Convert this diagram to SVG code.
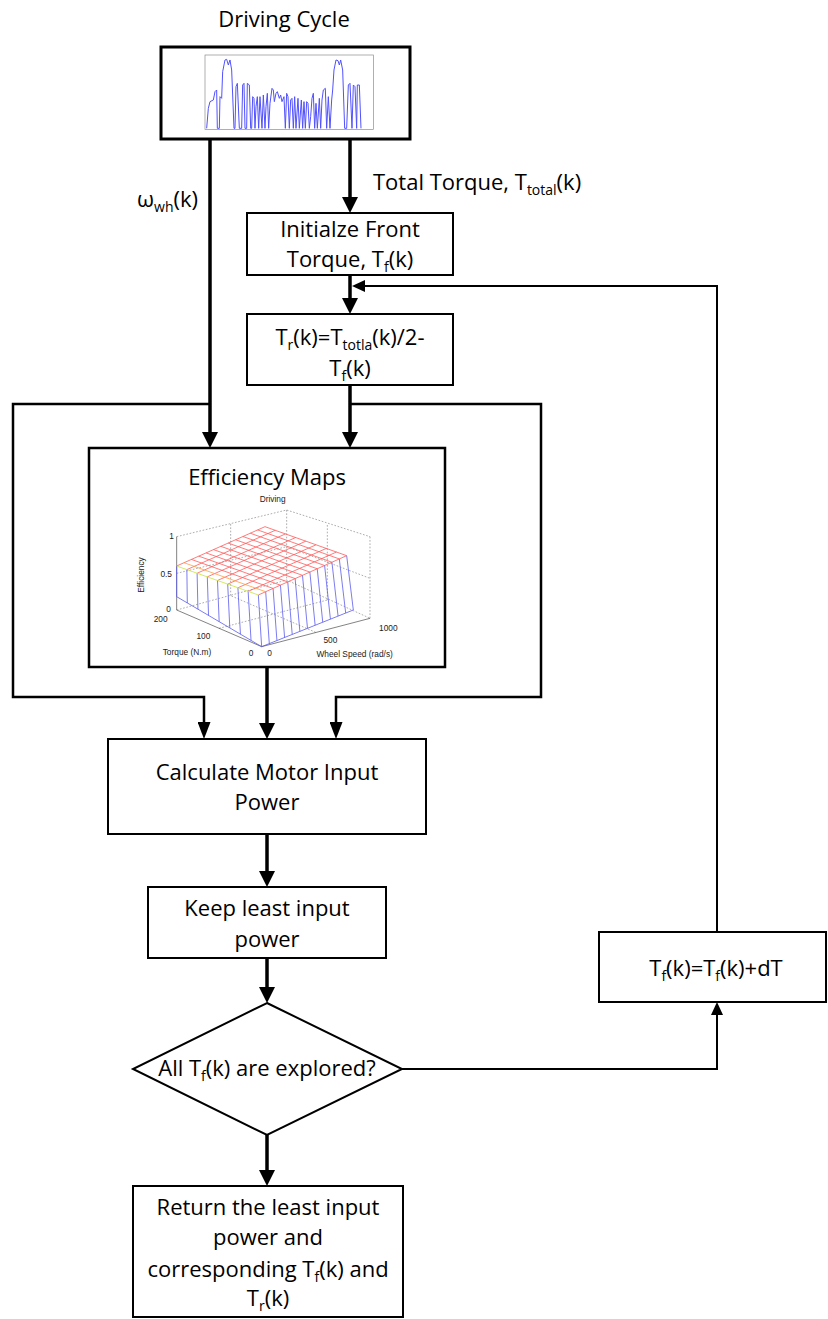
<svg xmlns="http://www.w3.org/2000/svg" width="828" height="1319" viewBox="0 0 828 1319">
<style>
.box{fill:#fff;stroke:#000;stroke-width:2}
.t{font-family:'Open Sans','Liberation Sans',sans-serif;font-size:22px;fill:#000;text-anchor:middle}
.tl{font-family:'Open Sans','Liberation Sans',sans-serif;font-size:22px;fill:#000}
.sub{font-size:14px}
.thick{stroke:#000;stroke-width:3.5;fill:none}
.thin{stroke:#000;stroke-width:2;fill:none}
.mid{stroke:#000;stroke-width:2.5;fill:none}
.ax{stroke:#444;stroke-width:2;fill:none}
.dot{stroke:#777;stroke-width:1.8;fill:none;stroke-dasharray:5 5}
.red{stroke:#ff5a5a;stroke-width:2.4;fill:none}
.blue{stroke:#5a5aee;stroke-width:2.4;fill:none}
.tick{font-family:'Liberation Sans',Arial,sans-serif;font-size:25px;fill:#222}
</style>
<defs>
<marker id="ah" markerUnits="userSpaceOnUse" markerWidth="16" markerHeight="16" refX="8" refY="8" orient="auto"><path d="M0,0 L16,8 L0,16 Z" fill="#000"/></marker>
<marker id="at" markerUnits="userSpaceOnUse" markerWidth="13" markerHeight="12" refX="6" refY="6" orient="auto"><path d="M0,0 L13,6 L0,12 Z" fill="#000"/></marker>
<marker id="am" markerUnits="userSpaceOnUse" markerWidth="17" markerHeight="13" refX="8" refY="6.5" orient="auto"><path d="M0,0 L17,6.5 L0,13 Z" fill="#000"/></marker>
</defs>
<rect width="828" height="1319" fill="#fff"/>

<g id="connectors">
<path class="thick" d="M210,140 V440" marker-end="url(#ah)"/>
<path class="thick" d="M350,140 V205" marker-end="url(#ah)"/>
<path class="thick" d="M350,275 V306" marker-end="url(#ah)"/>
<path class="thick" d="M350,385 V440" marker-end="url(#ah)"/>
<path class="thin" d="M717,932 V286 H359" marker-end="url(#at)"/>
<path class="mid" d="M210,404 H13 V697 H204 V730" marker-end="url(#am)"/>
<path class="mid" d="M350,404 H541 V697 H336 V730" marker-end="url(#am)"/>
<path class="thick" d="M267,667 V731" marker-end="url(#ah)"/>
<path class="thick" d="M267,834 V879" marker-end="url(#ah)"/>
<path class="thick" d="M267,958 V995" marker-end="url(#ah)"/>
<path class="thick" d="M267,1135 V1178" marker-end="url(#ah)"/>
<path class="thin" d="M402,1069 H717 V1009" marker-end="url(#at)"/>
</g>

<g id="labels">
<text class="tl" x="137" y="207">ω<tspan class="sub" dy="5">wh</tspan><tspan dy="-5">(k)</tspan></text>
<text class="tl" x="373" y="190">Total Torque, T<tspan class="sub" dy="5">total</tspan><tspan dy="-5">(k)</tspan></text>
</g>

<g id="driving-cycle">
<text class="t" x="284" y="27">Driving Cycle</text>
<rect x="161" y="47" width="249" height="92" fill="#fff" stroke="#000" stroke-width="3"/>
<g transform="translate(160,40) scale(0.33333)">
<rect x="135" y="45" width="505" height="223" fill="none" stroke="#888" stroke-width="2"/>
<polyline fill="none" stroke="#5050ff" stroke-width="3" points="140,265 145,205 150,185 160,180 165,155 170,150 172,265 178,265 180,170 185,175 188,95 195,60 200,58 205,75 210,60 215,90 222,265 225,265 228,140 232,130 238,265 245,265 248,135 252,130 255,265 260,265 262,130 268,135 272,265 275,265 278,170 282,175 285,265 288,200 292,170 296,265 300,170 306,265 310,165 315,265 318,200 322,160 326,265 330,190 336,145 340,150 343,185 348,160 352,155 358,175 362,165 366,185 372,170 376,265 380,160 384,170 388,265 392,180 396,175 400,265 404,170 408,265 414,175 418,265 424,180 428,265 432,185 436,265 440,185 444,190 448,265 452,230 456,175 460,160 464,265 468,190 472,265 478,175 482,265 486,180 490,150 496,145 500,265 505,170 510,265 515,180 518,150 522,90 528,60 534,62 538,75 542,60 548,90 554,265 560,265 565,135 570,130 576,265 580,135 585,140 590,265 592,135 598,135 603,265"/>
</g>
</g>

<g id="init-front">
<rect class="box" x="247" y="213" width="206" height="62"/>
<text class="t" x="350" y="237">Initialze Front</text>
<text class="t" x="350" y="267">Torque, T<tspan class="sub" dy="5">f</tspan><tspan dy="-5">(k)</tspan></text>
</g>

<g id="rear-torque">
<rect class="box" x="247" y="314" width="206" height="71"/>
<text class="t" x="350" y="345">T<tspan class="sub" dy="5">r</tspan><tspan dy="-5">(k)=T</tspan><tspan class="sub" dy="5">totla</tspan><tspan dy="-5">(k)/2-</tspan></text>
<text class="t" x="350" y="376">T<tspan class="sub" dy="5">f</tspan><tspan dy="-5">(k)</tspan></text>
</g>

<g id="efficiency-maps">
<rect x="89" y="448" width="356" height="219" fill="#fff" stroke="#000" stroke-width="2.5"/>
<text class="t" x="267" y="485">Efficiency Maps</text>
<g transform="translate(80,380) scale(0.33333)">
<text class="tick" x="578" y="367" text-anchor="middle">Driving</text>
<path class="dot" d="M290,470 L620,390 L870,470 M620,390 V600 M870,470 V715 M290,690 L620,600 L870,715 M290,580 L620,500 L870,595 M417,745 L742,660 M707,757 L452,647 M452,647 V430 M742,660 V430"/>
<path class="ax" d="M290,470 V690 L545,800 L870,715"/>
<path class="blue" d="M290,650 L545,800 L820,690 M290,558 L290,650 M320.6,568.9 L321.9,668.8 M351.3,579.8 L353.8,687.5 M381.9,590.6 L385.6,706.3 M412.5,601.5 L417.5,725 M443.1,612.4 L449.4,743.8 M473.8,623.3 L481.3,762.5 M504.4,634.1 L513.1,781.3 M535,645 L545,800 M557.1,635.2 L567.9,790.8 M579.2,625.3 L590.8,781.7 M601.3,615.5 L613.8,772.5 M623.3,605.7 L636.7,763.3 M645.4,595.8 L659.6,754.2 M667.5,586 L682.5,745 M689.6,576.2 L705.4,735.8 M711.7,566.3 L728.3,726.7 M733.8,556.5 L751.3,717.5 M755.8,546.7 L774.2,708.3 M777.9,536.8 L797.1,699.2 M800,527 L820,690"/>
<path class="red" d="M334.2,538.3 L579.2,625.3 M356.3,528.5 L601.3,615.5 M378.3,518.7 L623.3,605.7 M400.4,508.8 L645.4,595.8 M422.5,499 L667.5,586 M444.6,489.2 L689.6,576.2 M466.7,479.3 L711.7,566.3 M488.8,469.5 L733.8,556.5 M510.8,459.7 L755.8,546.7 M532.9,449.8 L777.9,536.8 M555,440 L800,527 M290,558 L555,440 M320.6,568.9 L585.6,450.9 M351.3,579.8 L616.3,461.8 M381.9,590.6 L646.9,472.6 M412.5,601.5 L677.5,483.5 M443.1,612.4 L708.1,494.4 M473.8,623.3 L738.8,505.3 M504.4,634.1 L769.4,516.1 M535,645 L800,527"/>
<path d="M312.1,548.2 L557.1,635.2" stroke="#ffa040" stroke-width="2.4" fill="none"/>
<path d="M290,558 L535,645" stroke="#c8e632" stroke-width="2.4" fill="none"/>
<text class="tick" x="282" y="476" text-anchor="end">1</text>
<text class="tick" x="276" y="590" text-anchor="end">0.5</text>
<text class="tick" x="273" y="697" text-anchor="end">0</text>
<text class="tick" x="242" y="727" text-anchor="middle">200</text>
<text class="tick" x="370" y="778" text-anchor="middle">100</text>
<text class="tick" x="513" y="828" text-anchor="middle">0</text>
<text class="tick" x="569" y="828" text-anchor="middle">0</text>
<text class="tick" x="751" y="790" text-anchor="middle">500</text>
<text class="tick" x="925" y="752" text-anchor="middle">1000</text>
<text class="tick" x="321" y="825" text-anchor="middle">Torque (N.m)</text>
<text class="tick" x="824" y="832" text-anchor="middle">Wheel Speed (rad/s)</text>
<text class="tick" x="0" y="0" text-anchor="middle" transform="translate(192,585) rotate(-90)">Efficiency</text>
</g>
</g>

<g id="calc-power">
<rect class="box" x="108" y="739" width="318" height="95"/>
<text class="t" x="267" y="780">Calculate Motor Input</text>
<text class="t" x="267" y="810">Power</text>
</g>

<g id="keep-least">
<rect class="box" x="148" y="887" width="238" height="71"/>
<text class="t" x="267" y="916">Keep least input</text>
<text class="t" x="267" y="947">power</text>
</g>

<g id="decision">
<polygon class="box" points="267,1003 402,1069 267,1135 133,1069"/>
<text class="t" x="267" y="1076">All T<tspan class="sub" dy="5">f</tspan><tspan dy="-5">(k) are explored?</tspan></text>
</g>

<g id="increment">
<rect class="box" x="599" y="932" width="227" height="70"/>
<text class="t" x="716" y="976">T<tspan class="sub" dy="5">f</tspan><tspan dy="-5">(k)=T</tspan><tspan class="sub" dy="5">f</tspan><tspan dy="-5">(k)+dT</tspan></text>
</g>

<g id="return">
<rect class="box" x="133" y="1186" width="270" height="131"/>
<text class="t" x="268" y="1215">Return the least input</text>
<text class="t" x="268" y="1245">power and</text>
<text class="t" x="268" y="1277">corresponding T<tspan class="sub" dy="5">f</tspan><tspan dy="-5">(k) and</tspan></text>
<text class="t" x="268" y="1306">T<tspan class="sub" dy="5">r</tspan><tspan dy="-5">(k)</tspan></text>
</g>
</svg>
